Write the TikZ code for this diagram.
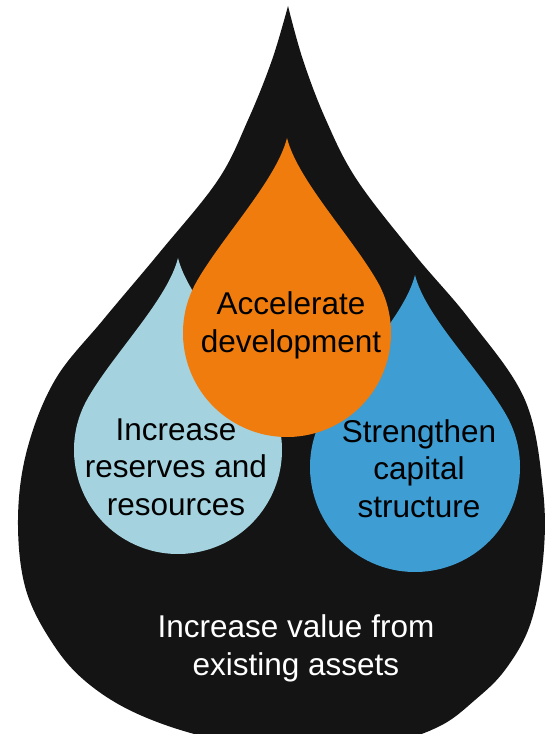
\documentclass[tikz,border=0pt]{standalone}
\usepackage{fontspec}
\setmainfont{Liberation Sans}
\definecolor{dropblack}{RGB}{20,20,20}
\definecolor{droporange}{RGB}{239,124,12}
\definecolor{droplight}{RGB}{164,211,223}
\definecolor{dropblue}{RGB}{62,157,211}
\newcommand{\mydrop}[5]{% colour, cx, cy, r, d
  \fill[#1] ({#2},{#3+#5})
    .. controls ({#2-0.1*#4},{#3+#5-0.4*#4}) and ({#2-0.616*#4},{#3+0.933*#4}) .. ({#2-0.866*#4},{#3+0.5*#4})
    arc[start angle=150,end angle=390,radius=#4]
    .. controls ({#2+0.616*#4},{#3+0.933*#4}) and ({#2+0.1*#4},{#3+#5-0.4*#4}) .. ({#2},{#3+#5}) -- cycle;}
\tikzset{
  droptext/.style={inner sep=0pt, align=center, font=\fontsize{31.5}{37.5}\selectfont},
}
\begin{document}
\begin{tikzpicture}[x=1pt,y=1pt]
\useasboundingbox (0,0) rectangle (547,734);
\begin{scope}
\clip (0,0) rectangle (547,734);
\begin{scope}[shift={(0,734)}, yscale=-1]
\fill[dropblack] plot[smooth, tension=0.6] coordinates {
  (288,6) (272,60) (248,120) (218,180) (160,252) (103,320) (55,380) (27,450)
  (18,520) (26,590) (55,647) (90,685) (140,715) (210,738) (298,752)
  (390,742) (440,726) (475,700) (505,670) (530,625) (543,560) (543,490)
  (525,400) (470,320) (415,255) (357,180) (326,120) (303,60) (288,6)} -- cycle;
\end{scope}
\end{scope}
\mydrop{droplight}{178}{284}{104}{192}
\mydrop{dropblue}{415}{267}{105}{192}
\mydrop{droporange}{287}{401}{104}{195}
\node[droptext, text=black] (reserves) at (176,267.1) {Increase\\reserves and\\resources};
\node[droptext, text=black] (develop) at (291,408.5) {Accelerate\\development};
\node[droptext, text=black] (capital) at (419,265.3) {Strengthen\\capital\\structure};
\node[droptext, text=white] (assets) at (296,85.5) {Increase value from\\existing assets};
\end{tikzpicture}
\end{document}
